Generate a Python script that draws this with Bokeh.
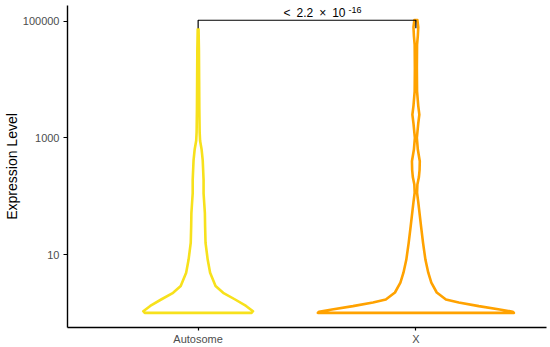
from bokeh.plotting import figure
from bokeh.models import FixedTicker, NumeralTickFormatter, Range1d, Label
from bokeh.embed import file_html
from bokeh.resources import INLINE

# ---- data ----
categories = ["Autosome", "X"]
positions = [1, 2]
colors = ["#F7E11C", "#FFA200"]

# violin outline: log10(expression) levels and half-widths (category units)
auto_log_levels = [0.0, 0.03, 0.12, 0.23, 0.345, 0.46, 0.69, 0.91, 1.20, 1.48, 1.71,
                   1.88, 2.05, 2.28, 2.45, 2.62, 2.80, 2.95, 3.10, 3.50, 4.00, 4.50, 4.86]
auto_half_width = [0.245, 0.252, 0.220, 0.170, 0.115, 0.080, 0.055, 0.044, 0.034, 0.032, 0.031,
                   0.028, 0.025, 0.025, 0.023, 0.021, 0.016, 0.009, 0.007, 0.0055, 0.0046, 0.0037, 0.002]

x_log_levels = [0.0, 0.02, 0.06, 0.116, 0.18, 0.23, 0.35, 0.52, 0.69, 0.91, 1.20, 1.48, 1.77,
                1.90, 2.06, 2.20, 2.33, 2.45, 2.60, 2.80, 3.00, 3.25, 3.40, 3.55, 3.80, 4.20,
                4.60, 4.75, 4.90, 5.02]
x_half_width = [0.450, 0.445, 0.385, 0.289, 0.197, 0.138, 0.096, 0.071, 0.057, 0.044, 0.033, 0.024, 0.015,
                0.011, 0.0055, 0.007, 0.014, 0.017, 0.018, 0.009, 0.0046, 0.011, 0.016, 0.011, 0.0055, 0.0046,
                0.0055, 0.009, 0.011, 0.007]

y_ticks = [10, 1000, 100000]
bracket_log_top = 5.017
bracket_log_tip = 4.88
p_label_main = "<\u20022.2\u2002×\u200210"
p_label_exp = "-16"

FONT = "Liberation Sans"

p = figure(frame_width=479, frame_height=322, x_range=Range1d(0.4, 2.6),
           y_range=Range1d(10 ** -0.25, 10 ** 5.27), y_axis_type="log",
           output_backend="svg", toolbar_location=None,
           min_border_left=66, min_border_right=5, min_border_top=5, min_border_bottom=19)
p.outline_line_color = None
p.grid.visible = False
p.background_fill_color = "white"

profiles = [(auto_log_levels, auto_half_width), (x_log_levels, x_half_width)]
for pos, col, (lv, hw) in zip(positions, colors, profiles):
    ys = [10 ** v for v in lv]
    xs_right = [pos + w for w in hw]
    xs_left = [pos - w for w in hw]
    px = xs_right + xs_left[::-1] + [xs_right[0]]
    py = ys + ys[::-1] + [ys[0]]
    p.line(px, py, line_color=col, line_width=2.6, line_join="round", line_cap="round")

# significance bracket
yt = 10 ** bracket_log_top
ytip = 10 ** bracket_log_tip
p.line([positions[0], positions[0], positions[1], positions[1]], [ytip, yt, yt, ytip],
       line_color="black", line_width=1.2)
mid = (positions[0] + positions[1]) / 2
p.add_layout(Label(x=mid, y=yt, x_offset=38.5, y_offset=7.5, text=p_label_main, text_align="right",
                   text_baseline="alphabetic", text_font=FONT, text_font_size="12px", text_color="black"))
p.add_layout(Label(x=mid, y=yt, x_offset=41.5, y_offset=10.5, text=p_label_exp, text_align="left",
                   text_baseline="alphabetic", text_font=FONT, text_font_size="9px", text_color="black"))

# axes
xa = p.xaxis[0]
xa.ticker = FixedTicker(ticks=positions)
xa.major_label_overrides = {pos: lab for pos, lab in zip(positions, categories)}
ya = p.yaxis[0]
ya.ticker = FixedTicker(ticks=y_ticks)
ya.formatter = NumeralTickFormatter(format="0")
ya.axis_label = "Expression Level"
for ax in (xa, ya):
    ax.axis_line_color = "black"
    ax.axis_line_width = 1.4
    ax.major_tick_line_color = "black"
    ax.major_tick_line_width = 1.2
    ax.major_tick_in = 0
    ax.minor_tick_out = 0
    ax.minor_tick_in = 0
    ax.major_label_text_font = FONT
    ax.major_label_text_font_size = "11px"
    ax.major_label_text_color = "#4D4D4D"
xa.major_tick_out = 3
xa.major_label_standoff = 2
ya.major_tick_out = 4
ya.major_label_standoff = 4
ya.axis_label_text_font = FONT
ya.axis_label_text_font_size = "14px"
ya.axis_label_text_font_style = "normal"
ya.axis_label_text_color = "black"
ya.axis_label_standoff = 0

open("out.html", "w").write(file_html(p, INLINE))
